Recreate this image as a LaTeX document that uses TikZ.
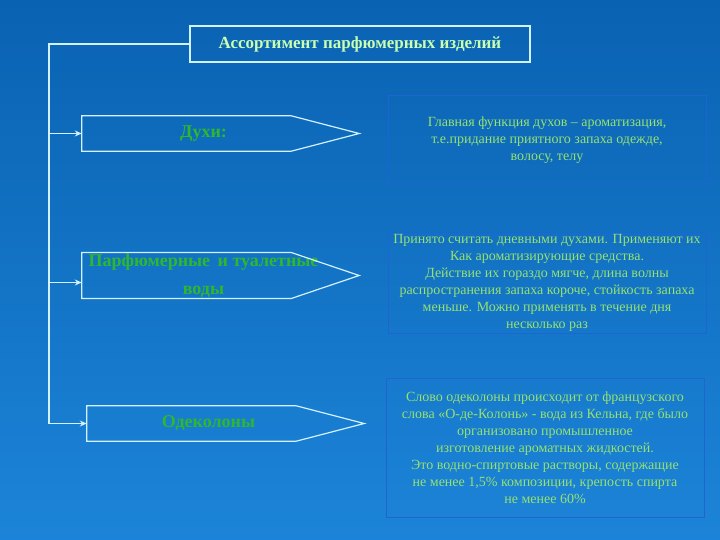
\documentclass[tikz,border=0pt]{standalone}
\usepackage{fontspec}
\setmainfont{Liberation Serif}
\usetikzlibrary{calc,arrows.meta}
\definecolor{bgtop}{RGB}{10,98,178}
\definecolor{bgbot}{RGB}{28,132,216}
\definecolor{edge}{RGB}{210,242,255}
\definecolor{boxedge}{RGB}{30,100,210}
\definecolor{titletext}{RGB}{200,255,176}
\definecolor{kindtext}{RGB}{46,184,46}
\definecolor{notetext}{RGB}{150,226,112}

\begin{document}
\begin{tikzpicture}[x=1pt,y=-1pt,
  title/.style={draw=edge,line width=1.2pt,minimum width=340pt,minimum height=36pt,
    font=\fontsize{17}{19}\selectfont\bfseries,text=titletext},
  kind/.style={minimum width=243pt,align=center,inner sep=1pt,
    font=\fontsize{18}{28}\selectfont\bfseries,text=kindtext},
  note/.style={draw=boxedge,line width=1pt,minimum width=318pt,align=center,inner sep=1pt,
    font=\fontsize{14}{17}\selectfont,text=notetext},
  outline/.style={draw=edge,line width=1.2pt},
  conn/.style={draw=edge,line width=1.5pt},
  arr/.style={conn,-{Stealth[length=7pt,width=6pt]}}]
  \shade[top color=bgtop,bottom color=bgbot] (0,0) rectangle (720,540);
  \node[title] (head) at (360,44) {Ассортимент парфюмерных изделий};
  \node[kind,minimum height=35pt] (duhi) at (203.5,133.5) {Духи:};
  \node[kind,minimum height=45pt] (vody) at (203.5,275.5) {Парфюмерные\, и туалетные\\ воды};
  \node[kind,minimum height=35pt] (odek) at (208.5,423.5) {Одеколоны};
  \foreach \n in {duhi,vody,odek}
    \draw[outline] (\n.north west) -- ($(\n.north east)-(34,0)$) -- ($(\n.east)+(34,0)$)
      -- ($(\n.south east)-(34,0)$) -- (\n.south west) -- cycle;
  \node[note,minimum height=89pt] (duhinote) at (547,140.5)
    {Главная функция духов – ароматизация,\\ т.е.придание приятного запаха одежде,\\ волосу, телу};
  \node[note,minimum height=101pt] (vodynote) at (547,282.5)
    {Принято считать дневными духами. Применяют их\\ Как ароматизирующие средства.\\
     Действие их гораздо мягче, длина волны\\ распространения запаха короче, стойкость запаха\\
     меньше. Можно применять в течение дня\\ несколько раз};
  \node[note,minimum height=139pt] (odeknote) at (545,447.5)
    {Слово одеколоны происходит от французского\\ слова «О-де-Колонь» - вода из Кельна, где было\\
     организовано промышленное\\ изготовление ароматных жидкостей.\\
     Это водно-спиртовые растворы, содержащие\\ не менее 1,5\% композиции, крепость спирта\\ не менее 60\%};
  \coordinate (spine) at (49,423.5);
  \draw[conn] (head.west) -| (spine);
  \draw[arr] (duhi.west -| spine) -- (duhi.west);
  \draw[arr] ([yshift=-7pt]vody.west -| spine) -- ([yshift=-7pt]vody.west);
  \draw[arr] (spine) -- (odek.west);
\end{tikzpicture}
\end{document}
